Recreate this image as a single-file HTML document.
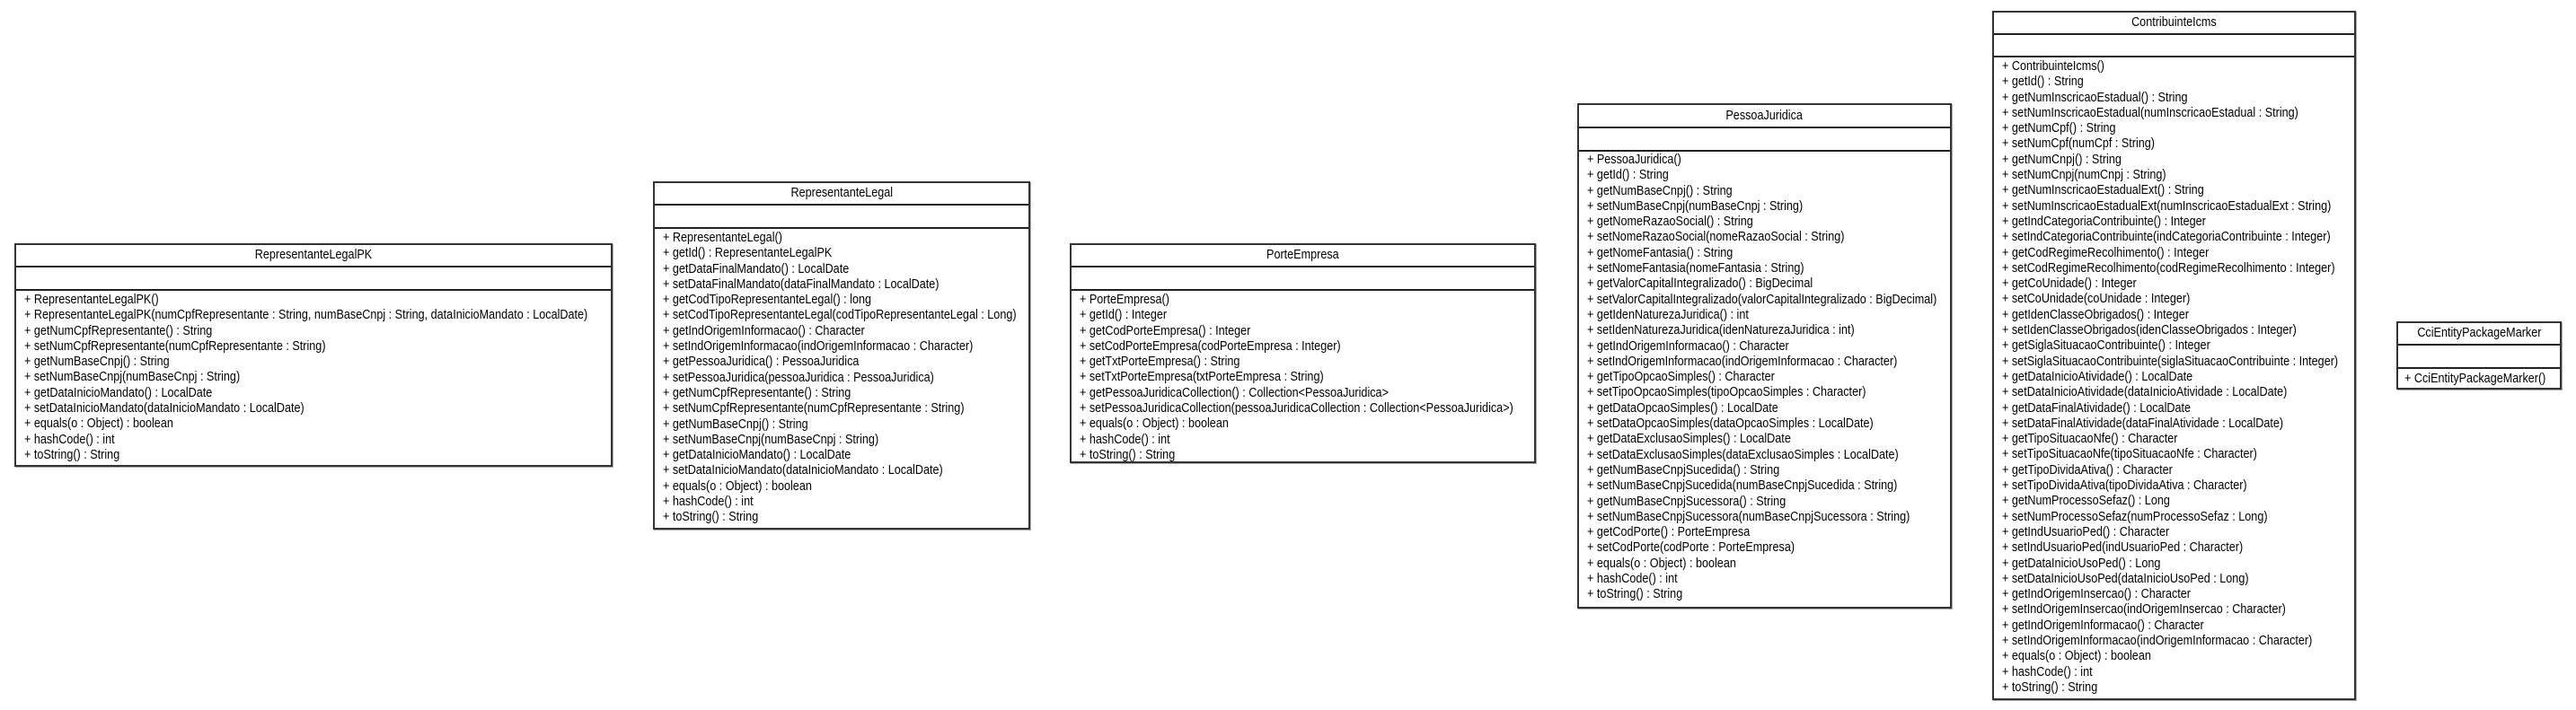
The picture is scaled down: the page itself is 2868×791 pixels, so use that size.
<!DOCTYPE html>
<html><head><meta charset="utf-8"><style>
body{margin:0;width:2868px;height:791px;background:#fff;position:relative;overflow:hidden;font-family:"Liberation Sans",Arial,sans-serif;color:#000}
.b{position:absolute;border:2px solid #333;box-sizing:border-box;background:#fff;box-shadow:1px 1px 0 #aaa}
.h{position:absolute;left:0;right:0;top:0;border-bottom:2px solid #222;box-sizing:border-box;text-align:center;font-size:14.5px}
.h span{display:inline-block;transform:scaleX(0.87)}
.a{position:absolute;left:0;right:0;border-bottom:2px solid #222;box-sizing:border-box}
.m{position:absolute;left:9px;right:0;font-size:14.5px;line-height:17.3px;white-space:pre;transform:scaleX(0.87);transform-origin:0 0}
</style></head><body>

<div class="b" style="left:16px;top:271px;width:666px;height:249px">
<div class="h" style="height:25px;line-height:23px"><span>RepresentanteLegalPK</span></div>
<div class="a" style="top:25px;height:26px"></div>
<div class="m" style="top:53px">+ RepresentanteLegalPK()
+ RepresentanteLegalPK(numCpfRepresentante : String, numBaseCnpj : String, dataInicioMandato : LocalDate)
+ getNumCpfRepresentante() : String
+ setNumCpfRepresentante(numCpfRepresentante : String)
+ getNumBaseCnpj() : String
+ setNumBaseCnpj(numBaseCnpj : String)
+ getDataInicioMandato() : LocalDate
+ setDataInicioMandato(dataInicioMandato : LocalDate)
+ equals(o : Object) : boolean
+ hashCode() : int
+ toString() : String</div>
</div>

<div class="b" style="left:727px;top:202px;width:420px;height:388px">
<div class="h" style="height:25px;line-height:23px"><span>RepresentanteLegal</span></div>
<div class="a" style="top:25px;height:26px"></div>
<div class="m" style="top:53px">+ RepresentanteLegal()
+ getId() : RepresentanteLegalPK
+ getDataFinalMandato() : LocalDate
+ setDataFinalMandato(dataFinalMandato : LocalDate)
+ getCodTipoRepresentanteLegal() : long
+ setCodTipoRepresentanteLegal(codTipoRepresentanteLegal : Long)
+ getIndOrigemInformacao() : Character
+ setIndOrigemInformacao(indOrigemInformacao : Character)
+ getPessoaJuridica() : PessoaJuridica
+ setPessoaJuridica(pessoaJuridica : PessoaJuridica)
+ getNumCpfRepresentante() : String
+ setNumCpfRepresentante(numCpfRepresentante : String)
+ getNumBaseCnpj() : String
+ setNumBaseCnpj(numBaseCnpj : String)
+ getDataInicioMandato() : LocalDate
+ setDataInicioMandato(dataInicioMandato : LocalDate)
+ equals(o : Object) : boolean
+ hashCode() : int
+ toString() : String</div>
</div>

<div class="b" style="left:1191px;top:271px;width:519px;height:245px">
<div class="h" style="height:25px;line-height:23px"><span>PorteEmpresa</span></div>
<div class="a" style="top:25px;height:26px"></div>
<div class="m" style="top:53px">+ PorteEmpresa()
+ getId() : Integer
+ getCodPorteEmpresa() : Integer
+ setCodPorteEmpresa(codPorteEmpresa : Integer)
+ getTxtPorteEmpresa() : String
+ setTxtPorteEmpresa(txtPorteEmpresa : String)
+ getPessoaJuridicaCollection() : Collection&lt;PessoaJuridica&gt;
+ setPessoaJuridicaCollection(pessoaJuridicaCollection : Collection&lt;PessoaJuridica&gt;)
+ equals(o : Object) : boolean
+ hashCode() : int
+ toString() : String</div>
</div>

<div class="b" style="left:1756px;top:115px;width:417px;height:563px">
<div class="h" style="height:26px;line-height:24px"><span>PessoaJuridica</span></div>
<div class="a" style="top:26px;height:26px"></div>
<div class="m" style="top:53px">+ PessoaJuridica()
+ getId() : String
+ getNumBaseCnpj() : String
+ setNumBaseCnpj(numBaseCnpj : String)
+ getNomeRazaoSocial() : String
+ setNomeRazaoSocial(nomeRazaoSocial : String)
+ getNomeFantasia() : String
+ setNomeFantasia(nomeFantasia : String)
+ getValorCapitalIntegralizado() : BigDecimal
+ setValorCapitalIntegralizado(valorCapitalIntegralizado : BigDecimal)
+ getIdenNaturezaJuridica() : int
+ setIdenNaturezaJuridica(idenNaturezaJuridica : int)
+ getIndOrigemInformacao() : Character
+ setIndOrigemInformacao(indOrigemInformacao : Character)
+ getTipoOpcaoSimples() : Character
+ setTipoOpcaoSimples(tipoOpcaoSimples : Character)
+ getDataOpcaoSimples() : LocalDate
+ setDataOpcaoSimples(dataOpcaoSimples : LocalDate)
+ getDataExclusaoSimples() : LocalDate
+ setDataExclusaoSimples(dataExclusaoSimples : LocalDate)
+ getNumBaseCnpjSucedida() : String
+ setNumBaseCnpjSucedida(numBaseCnpjSucedida : String)
+ getNumBaseCnpjSucessora() : String
+ setNumBaseCnpjSucessora(numBaseCnpjSucessora : String)
+ getCodPorte() : PorteEmpresa
+ setCodPorte(codPorte : PorteEmpresa)
+ equals(o : Object) : boolean
+ hashCode() : int
+ toString() : String</div>
</div>

<div class="b" style="left:2218px;top:12px;width:405px;height:768px">
<div class="h" style="height:25px;line-height:23px"><span>ContribuinteIcms</span></div>
<div class="a" style="top:25px;height:25px"></div>
<div class="m" style="top:52px">+ ContribuinteIcms()
+ getId() : String
+ getNumInscricaoEstadual() : String
+ setNumInscricaoEstadual(numInscricaoEstadual : String)
+ getNumCpf() : String
+ setNumCpf(numCpf : String)
+ getNumCnpj() : String
+ setNumCnpj(numCnpj : String)
+ getNumInscricaoEstadualExt() : String
+ setNumInscricaoEstadualExt(numInscricaoEstadualExt : String)
+ getIndCategoriaContribuinte() : Integer
+ setIndCategoriaContribuinte(indCategoriaContribuinte : Integer)
+ getCodRegimeRecolhimento() : Integer
+ setCodRegimeRecolhimento(codRegimeRecolhimento : Integer)
+ getCoUnidade() : Integer
+ setCoUnidade(coUnidade : Integer)
+ getIdenClasseObrigados() : Integer
+ setIdenClasseObrigados(idenClasseObrigados : Integer)
+ getSiglaSituacaoContribuinte() : Integer
+ setSiglaSituacaoContribuinte(siglaSituacaoContribuinte : Integer)
+ getDataInicioAtividade() : LocalDate
+ setDataInicioAtividade(dataInicioAtividade : LocalDate)
+ getDataFinalAtividade() : LocalDate
+ setDataFinalAtividade(dataFinalAtividade : LocalDate)
+ getTipoSituacaoNfe() : Character
+ setTipoSituacaoNfe(tipoSituacaoNfe : Character)
+ getTipoDividaAtiva() : Character
+ setTipoDividaAtiva(tipoDividaAtiva : Character)
+ getNumProcessoSefaz() : Long
+ setNumProcessoSefaz(numProcessoSefaz : Long)
+ getIndUsuarioPed() : Character
+ setIndUsuarioPed(indUsuarioPed : Character)
+ getDataInicioUsoPed() : Long
+ setDataInicioUsoPed(dataInicioUsoPed : Long)
+ getIndOrigemInsercao() : Character
+ setIndOrigemInsercao(indOrigemInsercao : Character)
+ getIndOrigemInformacao() : Character
+ setIndOrigemInformacao(indOrigemInformacao : Character)
+ equals(o : Object) : boolean
+ hashCode() : int
+ toString() : String</div>
</div>

<div class="b" style="left:2668px;top:358px;width:184px;height:76px">
<div class="h" style="height:25px;line-height:23px"><span>CciEntityPackageMarker</span></div>
<div class="a" style="top:25px;height:26px"></div>
<div class="m" style="top:52px;left:7px;line-height:21px">+ CciEntityPackageMarker()</div>
</div>

</body></html>
